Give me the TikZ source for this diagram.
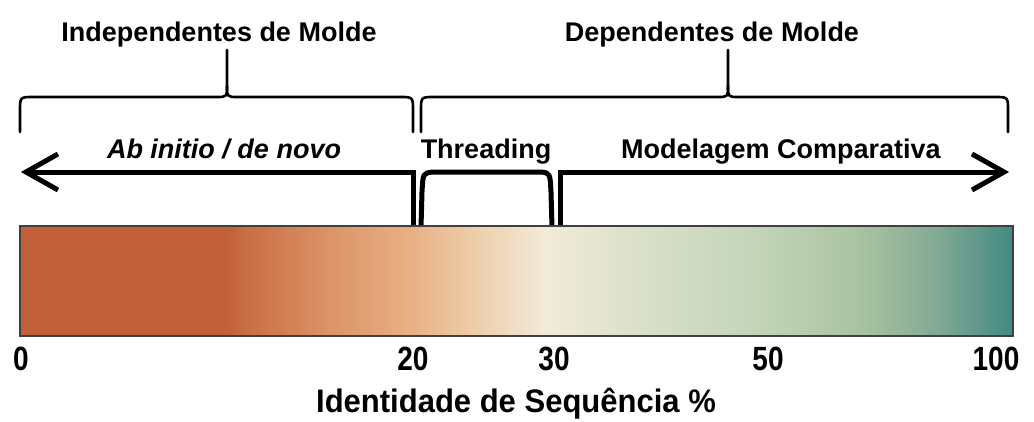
\documentclass[tikz,border=0pt]{standalone}
\usepackage{fontspec}
\setmainfont{Liberation Sans}
\definecolor{g0}{HTML}{C2603A}
\definecolor{g1}{HTML}{C86B42}
\definecolor{g2}{HTML}{DC9468}
\definecolor{g3}{HTML}{E8B083}
\definecolor{g4}{HTML}{EDCCA8}
\definecolor{g5}{HTML}{F2EBD9}
\definecolor{g6}{HTML}{DEE2CD}
\definecolor{g7}{HTML}{C2D4B8}
\definecolor{g8}{HTML}{A9C3A1}
\definecolor{g9}{HTML}{80A894}
\definecolor{g10}{HTML}{418A81}
\begin{document}
\begin{tikzpicture}[x=1pt,y=-1pt,
  lab/.style={anchor=base, inner sep=0pt, font=\fontsize{27}{31}\selectfont\bfseries},
  tick/.style={anchor=base, inner sep=0pt, yscale=1.2, transform shape, font=\fontsize{28}{31}\selectfont\bfseries},
  brace/.style={line width=2.6pt, line join=round, line cap=round},
  arr/.style={line width=5pt, line join=miter},
  head/.style={line width=5pt, line join=miter, line cap=butt}]
\useasboundingbox (0,0) rectangle (1034,421);
% top labels
\node[lab] (indep) at (219,41) {Independentes de Molde};
\node[lab] (dep) at (712,41) {Dependentes de Molde};
% braces
\draw[brace] (20,132) -- (20,111) .. controls (20,97) .. (33,97) -- (216,97)
  .. controls (227,97) .. (227,86) -- (227,50);
\draw[brace] (227,86) .. controls (227,97) .. (238,97) -- (400,97)
  .. controls (413,97) .. (413,111) -- (413,132);
\draw[brace] (421,132) -- (421,111) .. controls (421,97) .. (434,97) -- (717,97)
  .. controls (728,97) .. (728,86) -- (728,50);
\draw[brace] (728,86) .. controls (728,97) .. (739,97) -- (995,97)
  .. controls (1008,97) .. (1008,111) -- (1008,132);
% method labels
\node[lab, font=\fontsize{27}{31}\selectfont\bfseries\itshape] (abinitio) at (224,158) {Ab initio / de novo};
\node[lab] (thread) at (486,158) {Threading};
\node[lab] (modcomp) at (781,158) {Modelagem Comparativa};
% arrows and bracket
\draw[arr] (413,227) -- (413,172) -- (26,172);
\draw[head] (58,154) -- (26,172) -- (58,190);
\draw[arr, line join=round] (421,227) -- (422,192) .. controls (423,173) .. (433,172) -- (541,172)
  .. controls (550,173) .. (551,192) -- (552,227);
\draw[arr] (560,227) -- (560,172) -- (1004,172);
\draw[head] (972,154) -- (1004,172) -- (972,190);
% gradient bar
\fill[g0] (20,226) rectangle (229,336);
\shade[left color=g0, right color=g1] (228,226) rectangle (241,336);
\shade[left color=g1, right color=g2] (240,226) rectangle (331,336);
\shade[left color=g2, right color=g3] (330,226) rectangle (411,336);
\shade[left color=g3, right color=g4] (410,226) rectangle (471,336);
\shade[left color=g4, right color=g5] (470,226) rectangle (546,336);
\shade[left color=g5, right color=g6] (545,226) rectangle (621,336);
\shade[left color=g6, right color=g7] (620,226) rectangle (761,336);
\shade[left color=g7, right color=g8] (760,226) rectangle (861,336);
\shade[left color=g8, right color=g9] (860,226) rectangle (941,336);
\shade[left color=g9, right color=g10] (940,226) rectangle (1013,336);
\draw[line width=1.6pt, draw=black!75] (20,226) rectangle (1013,336);
% ticks
\node[tick] (t0) at (21,370) {0};
\node[tick] (t20) at (413,370) {20};
\node[tick] (t30) at (554,370) {30};
\node[tick] (t50) at (768,370) {50};
\node[tick] (t100) at (996,370) {100};
\node[anchor=base, inner sep=0pt, yscale=1.05, transform shape, font=\fontsize{31}{35}\selectfont\bfseries] (title) at (516,412) {Identidade de Sequência \%};
\end{tikzpicture}
\end{document}
